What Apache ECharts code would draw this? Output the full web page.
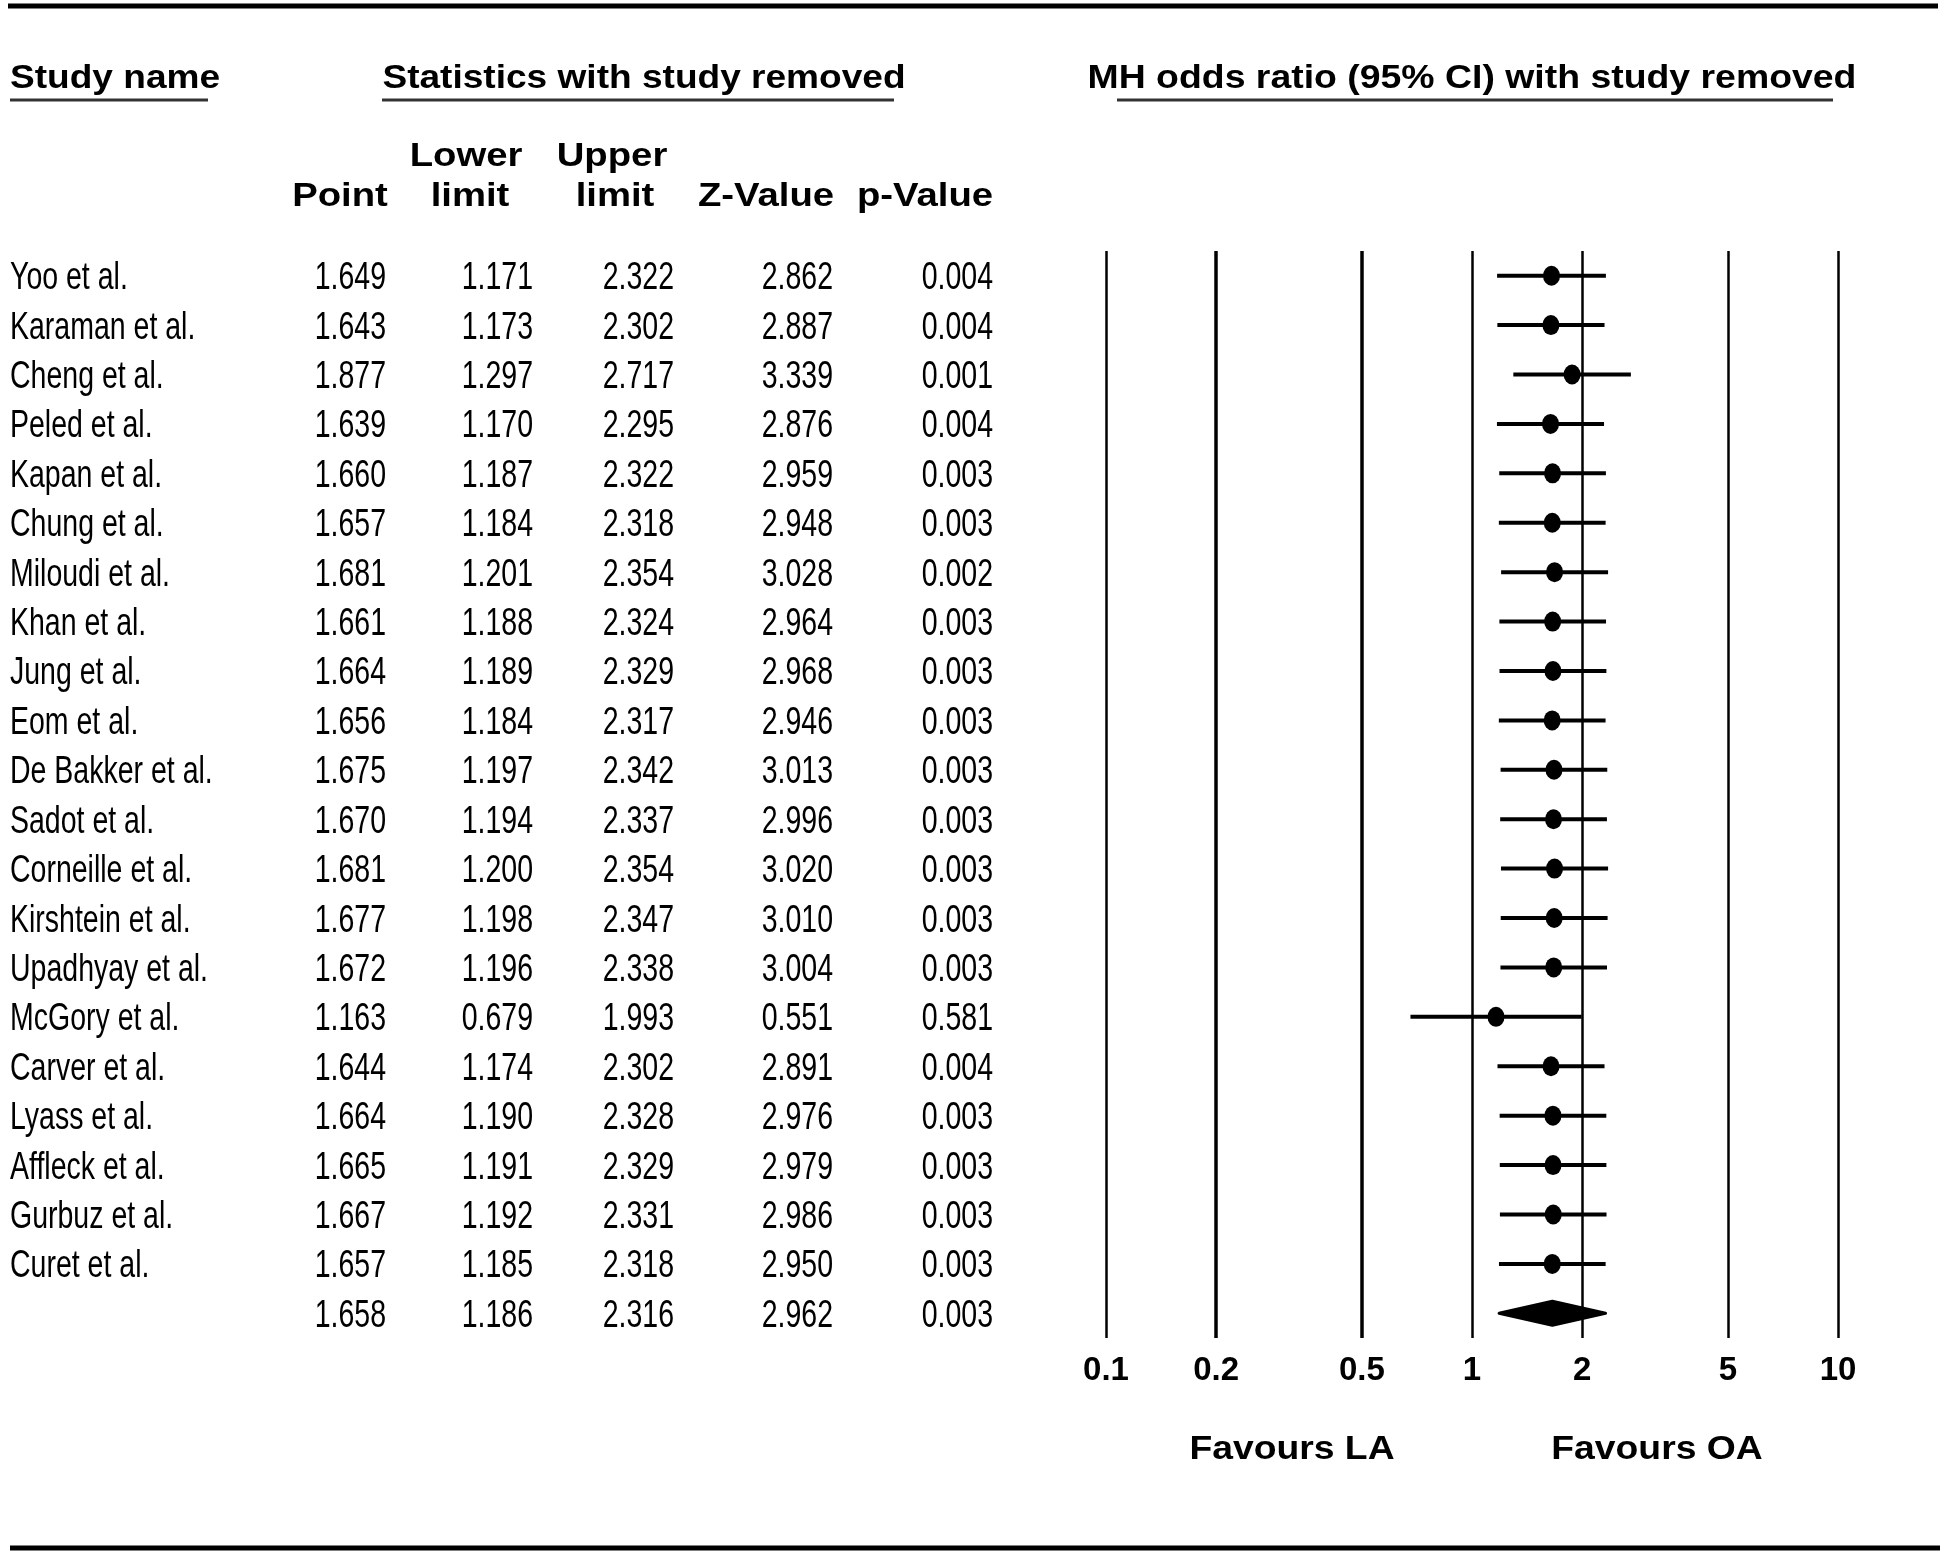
<!DOCTYPE html>
<html lang="en">
<head>
    <meta charset="UTF-8">
    <title>forest plot</title>
    <style>
        html,
        body {
            margin: 0;
            padding: 0;
            background: #fff;
        }

        #chart {
            width: 1946px;
            height: 1555px;
        }
    </style>
</head>
<body>
<div id="chart"></div>
<script src="https://cdn.jsdelivr.net/npm/echarts@6/dist/echarts.min.js"></script>
<script>
    const studies = ['Yoo et al.', 'Karaman et al.', 'Cheng et al.', 'Peled et al.', 'Kapan et al.',
        'Chung et al.', 'Miloudi et al.', 'Khan et al.', 'Jung et al.', 'Eom et al.', 'De Bakker et al.',
        'Sadot et al.', 'Corneille et al.', 'Kirshtein et al.', 'Upadhyay et al.', 'McGory et al.',
        'Carver et al.', 'Lyass et al.', 'Affleck et al.', 'Gurbuz et al.', 'Curet et al.']
    const point = [1.649, 1.643, 1.877, 1.639, 1.660, 1.657, 1.681, 1.661, 1.664, 1.656, 1.675,
        1.670, 1.681, 1.677, 1.672, 1.163, 1.644, 1.664, 1.665, 1.667, 1.657]
    const lower = [1.171, 1.173, 1.297, 1.170, 1.187, 1.184, 1.201, 1.188, 1.189, 1.184, 1.197,
        1.194, 1.200, 1.198, 1.196, 0.679, 1.174, 1.190, 1.191, 1.192, 1.185]
    const upper = [2.322, 2.302, 2.717, 2.295, 2.322, 2.318, 2.354, 2.324, 2.329, 2.317, 2.342,
        2.337, 2.354, 2.347, 2.338, 1.993, 2.302, 2.328, 2.329, 2.331, 2.318]
    const zValue = [2.862, 2.887, 3.339, 2.876, 2.959, 2.948, 3.028, 2.964, 2.968, 2.946, 3.013,
        2.996, 3.020, 3.010, 3.004, 0.551, 2.891, 2.976, 2.979, 2.986, 2.950]
    const pValue = [0.004, 0.004, 0.001, 0.004, 0.003, 0.003, 0.002, 0.003, 0.003, 0.003, 0.003,
        0.003, 0.003, 0.003, 0.003, 0.581, 0.004, 0.003, 0.003, 0.003, 0.003]
    // pooled row: point, lower, upper, z, p
    const pooled = [1.658, 1.186, 2.316, 2.962, 0.003]
    const xTicks = [0.1, 0.2, 0.5, 1, 2, 5, 10]
    const tickLabels = ['0.1', '0.2', '0.5', '1', '2', '5', '10']

    const rows = studies.concat([''])
    const tableCols = [
        point.concat([pooled[0]]),
        lower.concat([pooled[1]]),
        upper.concat([pooled[2]]),
        zValue.concat([pooled[3]]),
        pValue.concat([pooled[4]])
    ]

    const FONT = '"Liberation Sans", Arial, Helvetica, sans-serif'
    const colRight = [386, 533, 674, 833, 993]
    const gridTop = 251
    const gridBottom = 217

    function cellText(x, y, text, align) {
        return {
            type: 'text',
            x: x,
            y: y + 3,
            scaleX: 0.75,
            style: {
                text: text,
                fontSize: 38,
                fontFamily: FONT,
                fill: '#000',
                align: align,
                verticalAlign: 'middle'
            }
        }
    }

    function renderRow(params, api) {
        const i = params.dataIndex
        const y = api.coord([0, i])[1]
        const children = [cellText(api.coord([10, i])[0], y, rows[i], 'left')]
        tableCols.forEach((col, j) => {
            children.push(cellText(api.coord([colRight[j], i])[0], y, col[i].toFixed(3), 'right'))
        })
        return { type: 'group', children }
    }

    function renderCI(params, api) {
        const i = params.dataIndex
        const a = api.coord([lower[i], i])
        const b = api.coord([upper[i], i])
        return {
            type: 'line',
            shape: { x1: a[0], y1: a[1], x2: b[0], y2: b[1] },
            style: { stroke: '#000', lineWidth: 4 }
        }
    }

    function renderDiamond(params, api) {
        const i = studies.length
        const l = api.coord([pooled[1], i])
        const p = api.coord([pooled[0], i])
        const u = api.coord([pooled[2], i])
        const h = 12
        return {
            type: 'polygon',
            shape: { points: [[l[0], l[1]], [p[0], p[1] - h], [u[0], u[1]], [p[0], p[1] + h]] },
            style: { fill: '#000', stroke: '#000', lineWidth: 3, lineJoin: 'round' }
        }
    }

    function boldText(x, y, text, size, sx, align) {
        return {
            type: 'text',
            x: x,
            y: y,
            scaleX: sx,
            style: {
                text: text,
                fontSize: size,
                fontWeight: 'bold',
                fontFamily: FONT,
                fill: '#000',
                align: align || 'center',
                textAlign: align || 'center',
                verticalAlign: 'middle',
                textVerticalAlign: 'middle'
            }
        }
    }

    function rule(x1, x2, y, w, color) {
        return {
            type: 'line',
            shape: { x1: x1, y1: y, x2: x2, y2: y },
            style: { stroke: color, lineWidth: w }
        }
    }

    const chart = echarts.init(document.getElementById('chart'))

    chart.setOption({
        backgroundColor: '#fff',
        animation: false,
        grid: [
            { left: 0, width: 1000, top: gridTop, bottom: gridBottom },
            { left: 1106, right: 108, top: gridTop, bottom: gridBottom }
        ],
        xAxis: [
            { gridIndex: 0, type: 'value', min: 0, max: 1000, show: false },
            {
                gridIndex: 1,
                type: 'log',
                logBase: 10,
                min: 0.1,
                max: 10,
                axisLine: { show: false },
                axisTick: { show: false },
                splitLine: { show: false },
                axisLabel: {
                    customValues: xTicks,
                    margin: 16,
                    fontSize: 33,
                    fontWeight: 'bold',
                    fontFamily: FONT,
                    color: '#000',
                    formatter: v => {
                        let k = 0
                        xTicks.forEach((t, i) => {
                            if (Math.abs(Math.log(t / v)) < Math.abs(Math.log(xTicks[k] / v))) k = i
                        })
                        return tickLabels[k]
                    }
                }
            }
        ],
        yAxis: [
            { gridIndex: 0, type: 'category', data: rows.map((r, i) => 'r' + i), inverse: true, show: false },
            { gridIndex: 1, type: 'category', data: rows.map((r, i) => 'r' + i), inverse: true, show: false }
        ],
        series: [
            {
                type: 'custom',
                xAxisIndex: 0,
                yAxisIndex: 0,
                renderItem: renderRow,
                data: rows.map((r, i) => [0, i]),
                silent: true
            },
            {
                type: 'custom',
                xAxisIndex: 1,
                yAxisIndex: 1,
                renderItem: renderCI,
                data: studies.map((s, i) => [point[i], i]),
                silent: true
            },
            {
                type: 'scatter',
                xAxisIndex: 1,
                yAxisIndex: 1,
                symbol: 'circle',
                symbolSize: [17, 20],
                itemStyle: { color: '#000', opacity: 1 },
                data: studies.map((s, i) => [point[i], i]),
                silent: true,
                z: 3,
                markLine: {
                    silent: true,
                    symbol: 'none',
                    label: { show: false },
                    lineStyle: { color: '#000', width: 2.5, type: 'solid' },
                    data: xTicks.map(v => ({
                        xAxis: v,
                        lineStyle: { width: (v === 0.2 || v === 0.5) ? 3.5 : 2.5 }
                    }))
                }
            },
            {
                type: 'custom',
                xAxisIndex: 1,
                yAxisIndex: 1,
                renderItem: renderDiamond,
                data: [[pooled[0], studies.length]],
                silent: true
            }
        ],
        graphic: [
            rule(8, 1938, 6, 5, '#000'),
            rule(10, 1940, 1548, 5, '#000'),
            boldText(10, 79, 'Study name', 34, 1.09, 'left'),
            rule(10, 208, 100, 3, '#333'),
            boldText(644, 79, 'Statistics with study removed', 34, 1.09),
            rule(382, 894, 100, 3, '#333'),
            boldText(1472, 79, 'MH odds ratio (95% CI) with study removed', 34, 1.1),
            rule(1117, 1833, 100, 3, '#333'),
            boldText(466, 157, 'Lower', 33, 1.16),
            boldText(612, 157, 'Upper', 33, 1.16),
            boldText(340, 197, 'Point', 33, 1.16),
            boldText(470, 197, 'limit', 33, 1.16),
            boldText(615, 197, 'limit', 33, 1.16),
            boldText(766, 197, 'Z-Value', 33, 1.16),
            boldText(925, 197, 'p-Value', 33, 1.16),
            boldText(1292, 1450, 'Favours LA', 33, 1.13),
            boldText(1657, 1450, 'Favours OA', 33, 1.13)
        ]
    })
</script>
</body>
</html>
